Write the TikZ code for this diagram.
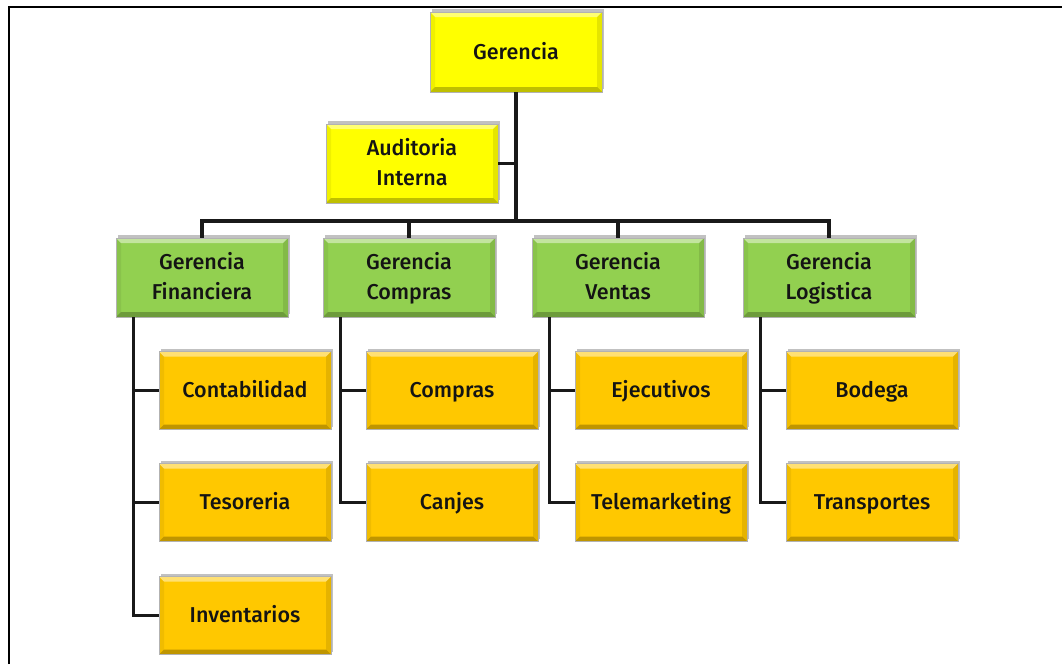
\documentclass[tikz,border=0pt]{standalone}
\usepackage{fontspec}
\setmainfont{Fira Sans}[UprightFont=* Medium]
\usetikzlibrary{shadows,calc}
\definecolor{yel}{RGB}{255,255,0}
\definecolor{grn}{RGB}{146,208,80}
\definecolor{org}{RGB}{255,200,0}
\definecolor{txt}{RGB}{20,20,20}
\tikzset{
  bevel/.style={path picture={
    \fill[white,opacity=0.45] (path picture bounding box.north west) -- (path picture bounding box.north east) -- ([xshift=-5,yshift=-5]path picture bounding box.north east) -- ([xshift=5,yshift=-5]path picture bounding box.north west) -- cycle;
    \fill[black,opacity=0.25] (path picture bounding box.south west) -- (path picture bounding box.south east) -- ([xshift=-5,yshift=5]path picture bounding box.south east) -- ([xshift=5,yshift=5]path picture bounding box.south west) -- cycle;
    \fill[black,opacity=0.10] (path picture bounding box.south east) -- (path picture bounding box.north east) -- ([xshift=-5,yshift=-5]path picture bounding box.north east) -- ([xshift=-5,yshift=5]path picture bounding box.south east) -- cycle;
    \fill[black,opacity=0.06] (path picture bounding box.south west) -- (path picture bounding box.north west) -- ([xshift=5,yshift=-5]path picture bounding box.north west) -- ([xshift=5,yshift=5]path picture bounding box.south west) -- cycle;
  }},
  orgbox/.style={bevel, rectangle, draw=black!30, line width=0.6, minimum width=172, minimum height=78, inner sep=0,
    align=center, text=txt, font=\fontsize{21.5}{30}\selectfont, text height=14, text depth=0,
    drop shadow={shadow xshift=2, shadow yshift=-3, fill=black!30, opacity=0.8}},
  twoline/.style={text height=45, text depth=2},
  yelbox/.style={orgbox, fill=yel},
  grnbox/.style={orgbox, fill=grn},
  orabox/.style={orgbox, fill=org},
  conn/.style={line width=3.5, draw=black!90, line join=miter},
}
\begin{document}
\begin{tikzpicture}[x=1pt,y=-1pt]
\useasboundingbox (0,0) rectangle (1062,664);
\fill[white] (0,0) rectangle (1062,664);
\draw[line width=2.5] (9,664) -- (9,7) -- (1062,7);

\coordinate (bus) at (516,221);
\node[yelbox, minimum height=80] (ger) at (516,52) {Gerencia};
\node[yelbox, twoline, minimum height=79] (aud) at (412,163.5) {Auditoria\\Interna};

\node[grnbox, twoline, minimum height=79] (gf) at (202,277.5) {Gerencia\\Financiera};
\node[grnbox, twoline, minimum height=79] (gc) at (409,277.5) {Gerencia\\Compras};
\node[grnbox, twoline, minimum height=79] (gv) at (618,277.5) {Gerencia\\Ventas};
\node[grnbox, twoline, minimum height=79] (gl) at (829,277.5) {Gerencia\\Logistica};

\node[orabox] (cont) at (245,390.5) {Contabilidad};
\node[orabox] (teso) at (245,502.5) {Tesoreria};
\node[orabox] (inv)  at (245,615.5) {Inventarios};
\node[orabox] (comp) at (452,390.5) {Compras};
\node[orabox] (canj) at (452,502.5) {Canjes};
\node[orabox] (ejec) at (661,390.5) {Ejecutivos};
\node[orabox] (tele) at (661,502.5) {Telemarketing};
\node[orabox] (bode) at (872,390.5) {Bodega};
\node[orabox] (tran) at (872,502.5) {Transportes};

\draw[conn] (ger.south) -- (bus);
\draw[conn] (aud.east) -- (aud.east -| bus);
\draw[conn] (gf.north) |- (bus) -| (gl.north);
\draw[conn] (gc.north) -- (gc.north |- bus);
\draw[conn] (gv.north) -- (gv.north |- bus);

\coordinate (fx) at ([xshift=18]gf.south west);
\coordinate (cx) at ([xshift=18]gc.south west);
\coordinate (vx) at ([xshift=18]gv.south west);
\coordinate (lx) at ([xshift=18]gl.south west);
\draw[conn] (fx) |- (cont.west) (fx) |- (teso.west) (fx) |- (inv.west);
\draw[conn] (cx) |- (comp.west) (cx) |- (canj.west);
\draw[conn] (vx) |- (ejec.west) (vx) |- (tele.west);
\draw[conn] (lx) |- (bode.west) (lx) |- (tran.west);
\end{tikzpicture}
\end{document}
